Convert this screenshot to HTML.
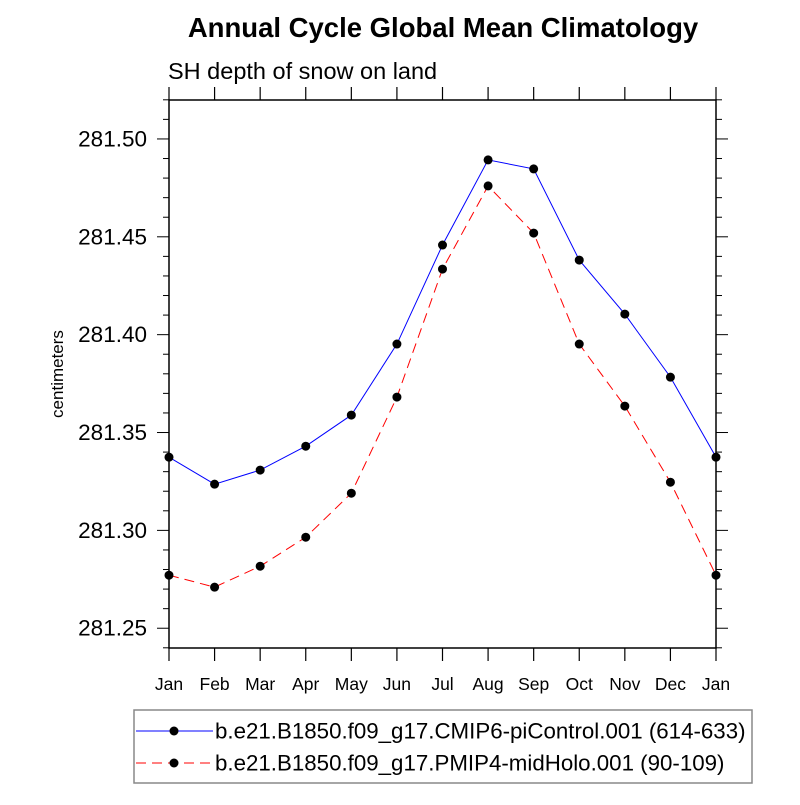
<!DOCTYPE html>
<html><head><meta charset="utf-8"><style>
body{margin:0;background:#fff}
svg text{font-family:"Liberation Sans",sans-serif;fill:#000}
</style></head><body>
<svg id="chart" width="800" height="800" xmlns="http://www.w3.org/2000/svg">
<text x="443" y="37" font-size="27.5" font-weight="bold" text-anchor="middle">Annual Cycle Global Mean Climatology</text>
<text x="168" y="79" font-size="23.5">SH depth of snow on land</text>
<text transform="translate(63,374) rotate(-90)" font-size="17" text-anchor="middle">centimeters</text>
<g id="axes"></g>
<g id="series"></g>
<rect x="134" y="710" width="618" height="73" fill="none" stroke="#888" stroke-width="1.5"/>
<g>
<line x1="136" y1="731" x2="213" y2="731" stroke="#0000ff" stroke-width="1"/>
<circle cx="174" cy="731" r="4.5" fill="#000"/>
<text x="215" y="738.5" font-size="22.3">b.e21.B1850.f09_g17.CMIP6-piControl.001 (614-633)</text>
</g>
<g>
<line x1="136" y1="763" x2="213" y2="763" stroke="#ff0000" stroke-width="1" stroke-dasharray="10,6"/>
<circle cx="174" cy="763" r="4.5" fill="#000"/>
<text x="215" y="770.5" font-size="22.3">b.e21.B1850.f09_g17.PMIP4-midHolo.001 (90-109)</text>
</g>
</svg>
<script>
const months=["Jan","Feb","Mar","Apr","May","Jun","Jul","Aug","Sep","Oct","Nov","Dec","Jan"];
const piControl=[281.3374,281.3236,281.3308,281.3430,281.3589,281.3952,281.4458,281.4893,281.4847,281.4381,281.4105,281.3783,281.3374];
const midHolo=[281.2771,281.2710,281.2817,281.2965,281.3190,281.3681,281.4335,281.4760,281.4519,281.3952,281.3635,281.3246,281.2771];
const yTicks=[281.25,281.30,281.35,281.40,281.45,281.50];
const yTickLabels=["281.25","281.30","281.35","281.40","281.45","281.50"];
const L=169,R=716,T=100,B=648,yMin=281.2399,yMax=281.5199;
const NS="http://www.w3.org/2000/svg";
function xs(i){return L+(R-L)*i/(months.length-1);}
function ys(v){return B-(v-yMin)/(yMax-yMin)*(B-T);}
function mk(tag,attrs,parent){const e=document.createElementNS(NS,tag);for(const k in attrs)e.setAttribute(k,attrs[k]);parent.appendChild(e);return e;}
const ax=document.getElementById('axes');
const fr=mk('rect',{x:L,y:T,width:R-L,height:B-T,fill:'none',stroke:'#000','stroke-width':1.5},ax);


months.forEach((m,i)=>{
  const x=xs(i);
  mk('line',{x1:x,y1:B,x2:x,y2:B+13,stroke:'#000','stroke-width':1.2},ax);
  mk('line',{x1:x,y1:T,x2:x,y2:T-13,stroke:'#000','stroke-width':1.2},ax);
  const t=mk('text',{x:x,y:B+42,'font-size':17.5,'text-anchor':'middle'},ax);
  t.textContent=m;
  
  
});
for(let v=281.24;v<=281.5201;v+=0.01){
  const y=ys(v);
  const major=yTicks.some(t=>Math.abs(t-v)<1e-6);
  const len=major?12:6;
  mk('line',{x1:L,y1:y,x2:L-len,y2:y,stroke:'#000','stroke-width':1},ax);
  mk('line',{x1:R,y1:y,x2:R+len,y2:y,stroke:'#000','stroke-width':1},ax);
}
yTicks.forEach((v,i)=>{
  const t=mk('text',{x:L-22,y:ys(v)+7.5,'font-size':22.5,'text-anchor':'end'},ax);
  t.textContent=yTickLabels[i];
  
  
});
const sg=document.getElementById('series');
function drawSeries(vals,color,dash,name){
  const g=mk('g',{},sg);
  
  
  const pts=vals.map((v,i)=>xs(i)+','+ys(v)).join(' ');
  const a={points:pts,fill:'none',stroke:color,'stroke-width':1};
  if(dash)a['stroke-dasharray']=dash;
  mk('polyline',a,g);
  vals.forEach((v,i)=>{
    const c=mk('circle',{cx:xs(i),cy:ys(v),r:4.5,fill:'#000'},g);
    
    
  });
}
drawSeries(piControl,'#0000ff',null,'picontrol-series');
drawSeries(midHolo,'#ff0000','10,6','midholo-series');
</script>
</body></html>
